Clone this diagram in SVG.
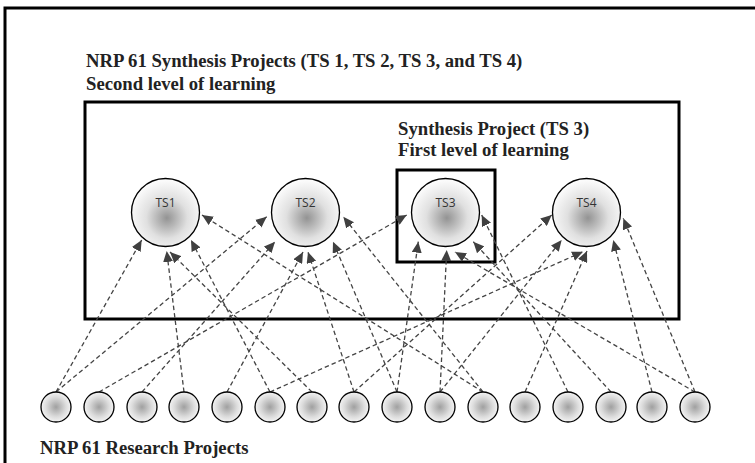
<svg xmlns="http://www.w3.org/2000/svg" width="755" height="463" viewBox="0 0 755 463">
<defs>
<radialGradient id="gBig" cx="0.52" cy="0.58" r="0.55">
<stop offset="0" stop-color="#939393"/>
<stop offset="0.55" stop-color="#e0e0e0"/>
<stop offset="1" stop-color="#fbfbfb"/>
</radialGradient>
<radialGradient id="gSmall" cx="0.5" cy="0.5" r="0.55">
<stop offset="0" stop-color="#a0a0a0"/>
<stop offset="0.6" stop-color="#dcdcdc"/>
<stop offset="1" stop-color="#fafafa"/>
</radialGradient>
<marker id="ah" markerUnits="userSpaceOnUse" markerWidth="12" markerHeight="10" refX="11" refY="5" orient="auto">
<path d="M0,0 L11,5 L0,10 z" fill="#404040"/>
</marker>
</defs>
<style>
.frame{fill:none;stroke:#000;stroke-width:3}
.ts{fill:url(#gBig);stroke:#000;stroke-width:1.3}
.rp{fill:url(#gSmall);stroke:#000;stroke-width:1.3}
.lbl{font-family:"Liberation Serif",serif;font-weight:bold;font-size:18.7px;fill:#222}
.tsl{font-family:"Open Sans","Liberation Sans",sans-serif;font-size:12px;fill:#333;text-anchor:middle}
.cn line{stroke:#444;stroke-width:1.3;stroke-dasharray:4.5 3;marker-end:url(#ah)}
</style>
<rect width="755" height="463" fill="#fff"/>
<rect class="frame" x="5" y="8" width="760" height="470"/>
<g id="labels">
<text class="lbl" x="86" y="67">NRP 61 Synthesis Projects (TS 1, TS 2, TS 3, and TS 4)</text>
<text class="lbl" x="86" y="90">Second level of learning</text>
<text class="lbl" x="398" y="135">Synthesis Project (TS 3)</text>
<text class="lbl" x="398" y="156">First level of learning</text>
<text class="lbl" x="40" y="454">NRP 61 Research Projects</text>
</g>
<g id="synthesis-box"><rect class="frame" x="85" y="102" width="594" height="217"/></g>
<g id="ts3-box"><rect class="frame" x="397" y="170" width="98" height="92"/></g>
<g id="connectors" class="cn">
<line x1="56" y1="392" x2="141.7" y2="240"/>
<line x1="56" y1="392" x2="266.7" y2="216.7"/>
<line x1="99" y1="392" x2="406.7" y2="215"/>
<line x1="142" y1="392" x2="275" y2="241.7"/>
<line x1="184" y1="392" x2="166.7" y2="251"/>
<line x1="227" y1="392" x2="303" y2="252"/>
<line x1="270" y1="392" x2="191" y2="240"/>
<line x1="270" y1="392" x2="583" y2="251.7"/>
<line x1="312" y1="392" x2="170" y2="252"/>
<line x1="354" y1="392" x2="551.7" y2="215"/>
<line x1="354" y1="392" x2="308" y2="252"/>
<line x1="397" y1="392" x2="333" y2="241.7"/>
<line x1="397" y1="392" x2="418.3" y2="241.7"/>
<line x1="440" y1="392" x2="446.7" y2="250"/>
<line x1="440" y1="392" x2="561.7" y2="240"/>
<line x1="483" y1="392" x2="202" y2="215"/>
<line x1="483" y1="392" x2="343.3" y2="216.7"/>
<line x1="525" y1="392" x2="587" y2="251"/>
<line x1="568" y1="392" x2="481.7" y2="215"/>
<line x1="611" y1="392" x2="473.3" y2="241.7"/>
<line x1="652" y1="392" x2="613.3" y2="240"/>
<line x1="695" y1="392" x2="623.3" y2="218.3"/>
<line x1="695" y1="392" x2="455" y2="252"/>
</g>
<g id="TS1"><circle class="ts" cx="165.5" cy="212.5" r="34"/><text class="tsl" x="165.5" y="207">TS1</text></g>
<g id="TS2"><circle class="ts" cx="305.5" cy="212.5" r="34"/><text class="tsl" x="305.5" y="207">TS2</text></g>
<g id="TS3"><circle class="ts" cx="445.5" cy="212.5" r="34"/><text class="tsl" x="445.5" y="207">TS3</text></g>
<g id="TS4"><circle class="ts" cx="586.5" cy="212.5" r="34"/><text class="tsl" x="586.5" y="207">TS4</text></g>
<g id="RP1"><circle class="rp" cx="56" cy="407" r="15"/></g>
<g id="RP2"><circle class="rp" cx="99" cy="407" r="15"/></g>
<g id="RP3"><circle class="rp" cx="142" cy="407" r="15"/></g>
<g id="RP4"><circle class="rp" cx="184" cy="407" r="15"/></g>
<g id="RP5"><circle class="rp" cx="227" cy="407" r="15"/></g>
<g id="RP6"><circle class="rp" cx="270" cy="407" r="15"/></g>
<g id="RP7"><circle class="rp" cx="312" cy="407" r="15"/></g>
<g id="RP8"><circle class="rp" cx="354" cy="407" r="15"/></g>
<g id="RP9"><circle class="rp" cx="397" cy="407" r="15"/></g>
<g id="RP10"><circle class="rp" cx="440" cy="407" r="15"/></g>
<g id="RP11"><circle class="rp" cx="483" cy="407" r="15"/></g>
<g id="RP12"><circle class="rp" cx="525" cy="407" r="15"/></g>
<g id="RP13"><circle class="rp" cx="568" cy="407" r="15"/></g>
<g id="RP14"><circle class="rp" cx="611" cy="407" r="15"/></g>
<g id="RP15"><circle class="rp" cx="652" cy="407" r="15"/></g>
<g id="RP16"><circle class="rp" cx="695" cy="407" r="15"/></g>
</svg>
